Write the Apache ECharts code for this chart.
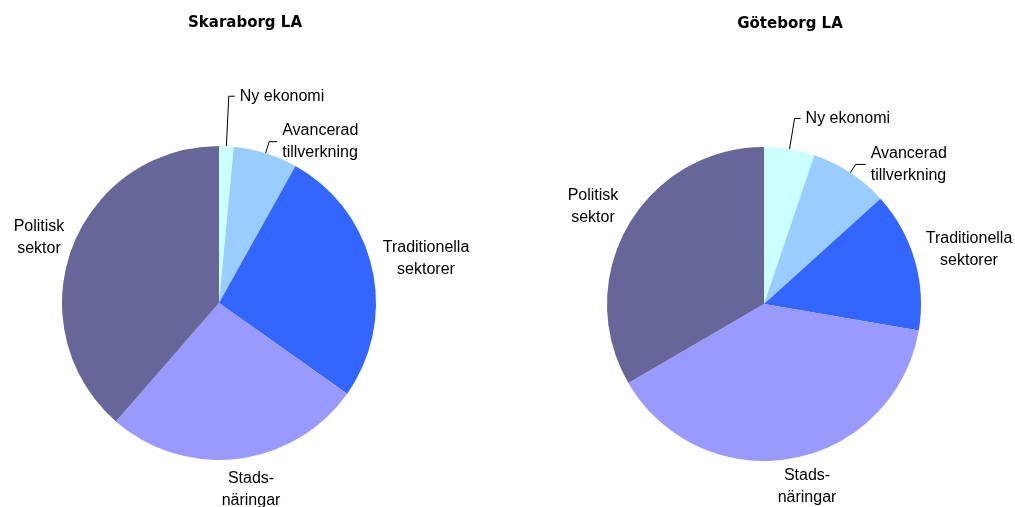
<!DOCTYPE html>
<html>
<head>
<meta charset="utf-8">
<script src="https://cdn.jsdelivr.net/npm/echarts@6/dist/echarts.min.js"></script>
<style>html,body{margin:0;padding:0;background:#fff}#c{width:1015px;height:507px}</style>
</head>
<body>
<div id="c"></div>
<script>
const categories = ['Ny ekonomi', 'Avancerad\ntillverkning', 'Traditionella\nsektorer', 'Stads-\nnäringar', 'Politisk\nsektor'];
const titles = ['Skaraborg LA', 'Göteborg LA'];
const skaraborgValues = [1.5, 6.6, 26.7, 26.6, 38.6];
const goteborgValues = [5.2, 8.1, 14.4, 38.9, 33.4];

const colors = ['#CCFFFF', '#99CCFF', '#3366FF', '#9999FF', '#666699'];
// label placement (layout config, not data)
const labelPos = [
  {2: [426, 259], 3: [251, 490], 4: [39, 238]},
  {2: [969, 250], 3: [807, 487], 4: [593, 207]}
];
const lineLen = [
  {0: [50, 6], 1: [12, 8]},
  {0: [31, 6], 1: [10, 10]}
];

function buildData(values, s) {
  return values.map((v, i) => {
    const item = {name: categories[i], value: v};
    if (lineLen[s][i]) {
      item.labelLine = {show: true, length: lineLen[s][i][0], length2: lineLen[s][i][1]};
    } else {
      item.labelLine = {show: false};
    }
    return item;
  });
}

function makeSeries(values, s, center) {
  return {
    type: 'pie',
    center: center,
    radius: 157,
    startAngle: 90,
    clockwise: true,
    avoidLabelOverlap: false,
    animation: false,
    data: buildData(values, s),
    itemStyle: {borderWidth: 0},
    label: {
      show: true, position: 'outside', color: '#000',
      fontFamily: 'Liberation Sans, Arial, sans-serif', fontSize: 16,
      lineHeight: 22, align: 'center', distanceToLabelLine: 5
    },
    labelLine: {lineStyle: {color: '#000', width: 1}, smooth: false},
    labelLayout: function (p) {
      const pos = labelPos[s][p.dataIndex];
      if (pos) {
        return {x: pos[0], y: pos[1], align: 'center', verticalAlign: 'middle'};
      }
      return {};
    },
    emphasis: {disabled: true}
  };
}

const titleStyle = {fontFamily: 'DejaVu Sans, sans-serif', fontSize: 15, fontWeight: 'bold', color: '#000'};
const chart = echarts.init(document.getElementById('c'));
chart.setOption({
  color: colors,
  backgroundColor: '#fff',
  title: [
    {text: titles[0], left: 240, top: 11, textAlign: 'center', textStyle: titleStyle},
    {text: titles[1], left: 785, top: 12, textAlign: 'center', textStyle: titleStyle}
  ],
  series: [
    makeSeries(skaraborgValues, 0, [219, 303]),
    makeSeries(goteborgValues, 1, [764, 304])
  ]
});
</script>
</body>
</html>
